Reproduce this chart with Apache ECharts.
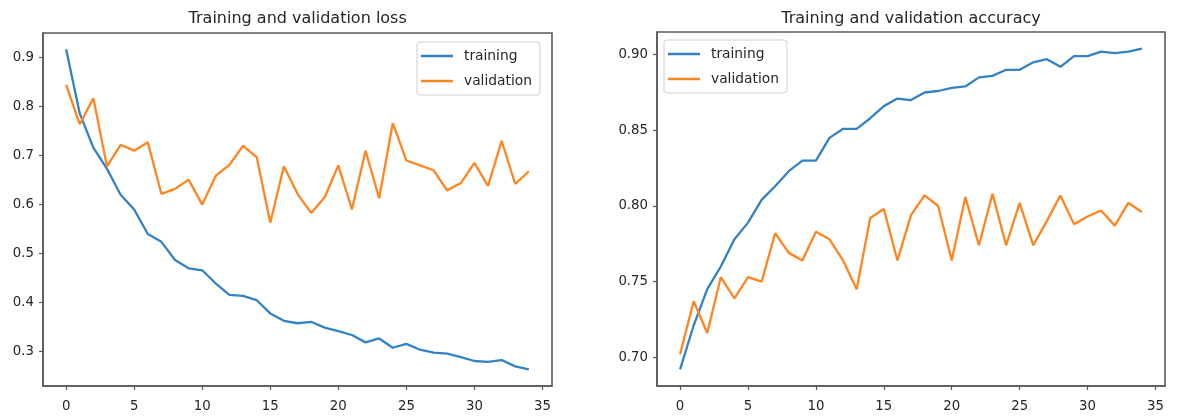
<!DOCTYPE html>
<html>
<head>
<meta charset="utf-8">
<script src="https://cdn.jsdelivr.net/npm/echarts@6/dist/echarts.min.js"></script>
<style>
html,body{margin:0;padding:0;background:#fff;}
#chart{width:1177px;height:418px;}
</style>
</head>
<body>
<div id="chart"></div>
<script>
const epochs = [0,1,2,3,4,5,6,7,8,9,10,11,12,13,14,15,16,17,18,19,20,21,22,23,24,25,26,27,28,29,30,31,32,33,34];
const lossTrain = [0.917,0.786,0.716,0.673,0.620,0.590,0.540,0.524,0.487,0.470,0.466,0.439,0.416,0.414,0.405,0.378,0.363,0.358,0.361,0.349,0.342,0.334,0.319,0.327,0.308,0.316,0.304,0.298,0.296,0.289,0.281,0.279,0.283,0.270,0.264];
const lossVal = [0.844,0.764,0.817,0.678,0.722,0.710,0.727,0.622,0.632,0.651,0.600,0.659,0.681,0.720,0.697,0.563,0.678,0.622,0.583,0.615,0.680,0.590,0.710,0.613,0.766,0.690,0.680,0.670,0.629,0.644,0.685,0.638,0.730,0.642,0.668];
const accTrain = [0.692,0.721,0.745,0.760,0.778,0.789,0.804,0.813,0.823,0.830,0.830,0.845,0.851,0.851,0.858,0.866,0.871,0.870,0.875,0.876,0.878,0.879,0.885,0.886,0.890,0.890,0.895,0.897,0.892,0.899,0.899,0.902,0.901,0.902,0.904];
const accVal = [0.702,0.737,0.716,0.753,0.739,0.753,0.750,0.782,0.769,0.764,0.783,0.778,0.764,0.745,0.792,0.798,0.764,0.794,0.807,0.800,0.764,0.806,0.774,0.808,0.774,0.802,0.774,0.790,0.807,0.788,0.793,0.797,0.787,0.802,0.796];
const xTicks = [0,5,10,15,20,25,30,35];
const lossTicks = [0.3,0.4,0.5,0.6,0.7,0.8,0.9];
const accTicks = [0.70,0.75,0.80,0.85,0.90];
const titles = ['Training and validation loss','Training and validation accuracy'];
const seriesNames = ['training','validation'];

const FONT = 'DejaVu Sans';
const TXT = '#262626';
const BLUE = '#3383c4';
const ORANGE = '#ff8521';
const FRAME = '#5a5a5a';

function pairs(xs, ys){ return xs.map((x,i)=>[x, ys[i]]); }

function xAxisFor(gi){
  return {
    type:'value', gridIndex:gi, min:-1.7, max:35.7, position:'bottom',
    splitLine:{show:false},
    axisLine:{show:true, onZero:false, lineStyle:{color:FRAME, width:1.6}},
    axisTick:{show:true, inside:false, length:4, customValues:xTicks, lineStyle:{color:FRAME, width:1.2}},
    axisLabel:{show:true, customValues:xTicks, margin:14, color:TXT, fontFamily:FONT, fontSize:13.3}
  };
}
function yAxisFor(gi, min, max, ticks, dec){
  return {
    type:'value', gridIndex:gi, min:min, max:max, position:'left',
    splitLine:{show:false},
    axisLine:{show:true, onZero:false, lineStyle:{color:FRAME, width:1.6}},
    axisTick:{show:true, inside:false, length:4, customValues:ticks, lineStyle:{color:FRAME, width:1.2}},
    axisLabel:{show:true, customValues:ticks, margin:9, color:TXT, fontFamily:FONT, fontSize:13.3,
      formatter:(v)=>Number(v).toFixed(dec)}
  };
}
function legendFor(left, top){
  return {
    left:left, top:top, orient:'vertical',
    data:seriesNames,
    icon:'rect', itemWidth:32, itemHeight:2.5, itemGap:11,
    padding:[7,8,7,4],
    borderColor:'#d0d0d0', borderWidth:1, borderRadius:3,
    backgroundColor:'rgba(255,255,255,0.8)',
    selectedMode:false,
    textStyle:{color:TXT, fontFamily:FONT, fontSize:13.8, lineHeight:14, padding:[0,0,0,6]}
  };
}
function line(name, xi, yi, ys, color){
  return {
    type:'line', name:name, xAxisIndex:xi, yAxisIndex:yi,
    data:pairs(epochs, ys), showSymbol:false, symbol:'none',
    color:color, lineStyle:{color:color, width:2.3}, z:3
  };
}

const chart = echarts.init(document.getElementById('chart'), null, {renderer:'canvas'});
chart.setOption({
  animation:false,
  backgroundColor:'#fff',
  title:[
    {text:titles[0], left:297.7, top:11, textAlign:'center', padding:0,
     textStyle:{fontFamily:FONT, fontSize:16, fontWeight:'normal', color:TXT}},
    {text:titles[1], left:911, top:11, textAlign:'center', padding:0,
     textStyle:{fontFamily:FONT, fontSize:16, fontWeight:'normal', color:TXT}}
  ],
  grid:[
    {left:43, top:33, width:509, height:353, show:true, borderColor:FRAME, borderWidth:1.6, backgroundColor:'transparent'},
    {left:657, top:32, width:508, height:354, show:true, borderColor:FRAME, borderWidth:1.6, backgroundColor:'transparent'}
  ],
  xAxis:[xAxisFor(0), xAxisFor(1)],
  yAxis:[yAxisFor(0,0.23,0.95,lossTicks,1), yAxisFor(1,0.681,0.915,accTicks,2)],
  legend:[legendFor(417,42), legendFor(664,40)],
  series:[
    line(seriesNames[0],0,0,lossTrain,BLUE),
    line(seriesNames[1],0,0,lossVal,ORANGE),
    line(seriesNames[0],1,1,accTrain,BLUE),
    line(seriesNames[1],1,1,accVal,ORANGE)
  ]
});
</script>
</body>
</html>
